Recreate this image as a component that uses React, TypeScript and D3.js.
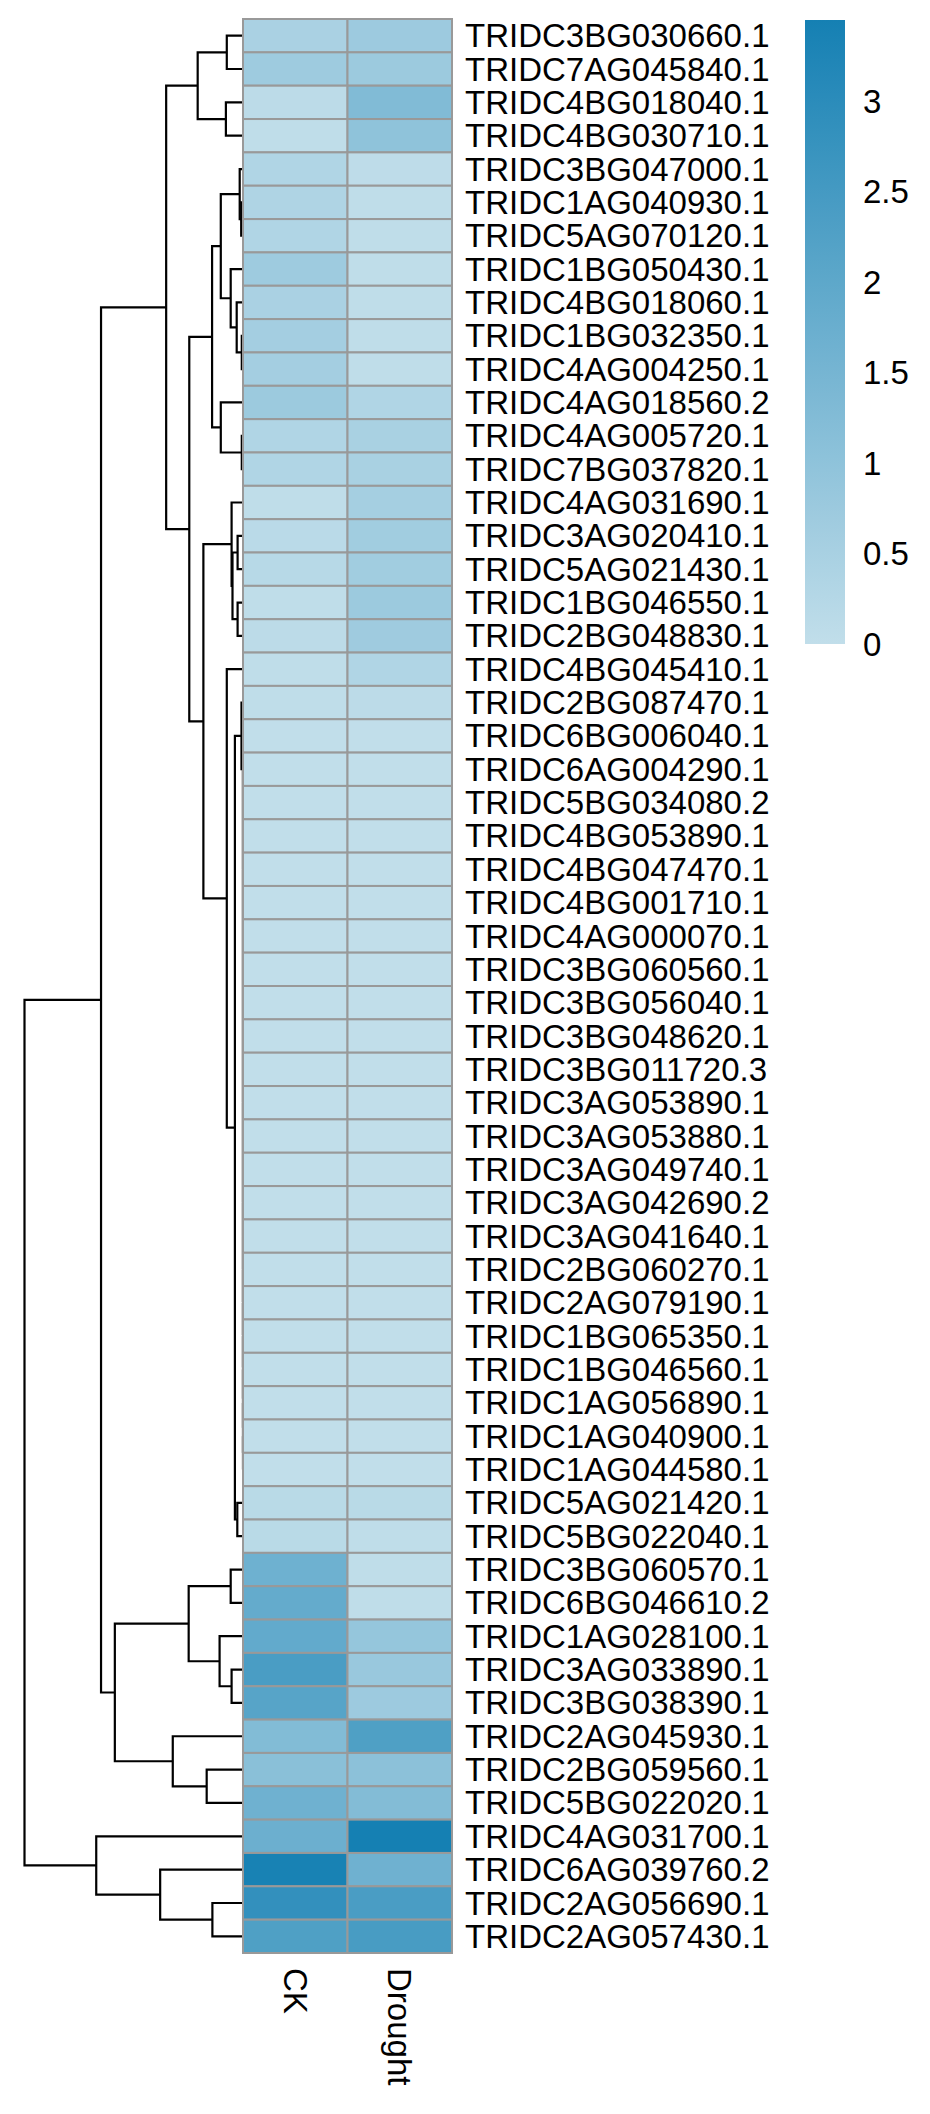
import { useRef, useEffect } from "react";
import * as d3 from "d3";

const genes = [
  "TRIDC3BG030660.1", "TRIDC7AG045840.1", "TRIDC4BG018040.1", "TRIDC4BG030710.1",
  "TRIDC3BG047000.1", "TRIDC1AG040930.1", "TRIDC5AG070120.1", "TRIDC1BG050430.1",
  "TRIDC4BG018060.1", "TRIDC1BG032350.1", "TRIDC4AG004250.1", "TRIDC4AG018560.2",
  "TRIDC4AG005720.1", "TRIDC7BG037820.1", "TRIDC4AG031690.1", "TRIDC3AG020410.1",
  "TRIDC5AG021430.1", "TRIDC1BG046550.1", "TRIDC2BG048830.1", "TRIDC4BG045410.1",
  "TRIDC2BG087470.1", "TRIDC6BG006040.1", "TRIDC6AG004290.1", "TRIDC5BG034080.2",
  "TRIDC4BG053890.1", "TRIDC4BG047470.1", "TRIDC4BG001710.1", "TRIDC4AG000070.1",
  "TRIDC3BG060560.1", "TRIDC3BG056040.1", "TRIDC3BG048620.1", "TRIDC3BG011720.3",
  "TRIDC3AG053890.1", "TRIDC3AG053880.1", "TRIDC3AG049740.1", "TRIDC3AG042690.2",
  "TRIDC3AG041640.1", "TRIDC2BG060270.1", "TRIDC2AG079190.1", "TRIDC1BG065350.1",
  "TRIDC1BG046560.1", "TRIDC1AG056890.1", "TRIDC1AG040900.1", "TRIDC1AG044580.1",
  "TRIDC5AG021420.1", "TRIDC5BG022040.1", "TRIDC3BG060570.1", "TRIDC6BG046610.2",
  "TRIDC1AG028100.1", "TRIDC3AG033890.1", "TRIDC3BG038390.1", "TRIDC2AG045930.1",
  "TRIDC2BG059560.1", "TRIDC5BG022020.1", "TRIDC4AG031700.1", "TRIDC6AG039760.2",
  "TRIDC2AG056690.1", "TRIDC2AG057430.1",
];

const conditions = ["CK", "Drought"];

const ckValues = [
  0.46, 0.7, 0.1, 0.05, 0.34, 0.36, 0.34, 0.7, 0.46, 0.58,
  0.58, 0.74, 0.34, 0.34, 0.04, 0.14, 0.2, 0.04, 0.1, 0.04,
  0.05, 0, 0, 0, 0, 0, 0, 0, 0, 0,
  0, 0, 0, 0, 0, 0, 0, 0, 0, 0,
  0, 0, 0, 0, 0.16, 0.16,
  1.66, 1.87, 1.9, 2.39, 2.13, 1.26, 1.1, 1.64, 1.71, 3.38, 2.85, 2.29,
];

const droughtValues = [
  0.72, 0.74, 1.28, 1.0, 0.06, 0.04, 0.04, 0.05, 0.04, 0.04,
  0.04, 0.34, 0.48, 0.48, 0.56, 0.64, 0.64, 0.74, 0.68, 0.34,
  0.1, 0, 0, 0, 0, 0, 0, 0, 0, 0,
  0, 0, 0, 0, 0, 0, 0, 0, 0, 0,
  0, 0, 0, 0, 0.16, 0.05,
  0.04, 0.04, 0.88, 0.8, 0.72, 2.29, 1.06, 1.24, 3.45, 1.64, 2.39, 2.43,
];

const legendTicks = [0, 0.5, 1, 1.5, 2, 2.5, 3];

// row dendrogram, hclust style: negative = leaf (row number), positive = earlier merge
const rowMerges: [number, number, number][] = [
  [-1, -2, 0.54], [-3, -4, 0.57], [1, 2, 1.51], [-6, -7, 0.06],
  [-5, 4, 0.11], [-10, -11, 0.04], [-9, 6, 0.21], [-8, 7, 0.41],
  [5, 8, 0.74], [-13, -14, 0.04], [-12, 10, 0.74], [9, 11, 1.03],
  [-16, -17, 0.18], [-18, -19, 0.18], [13, 14, 0.35], [-15, 15, 0.38],
  [-43, -44, 0], [-42, 17, 0], [-41, 18, 0], [-40, 19, 0],
  [-39, 20, 0], [-38, 21, 0], [-37, 22, 0], [-36, 23, 0],
  [-35, 24, 0], [-34, 25, 0], [-33, 26, 0], [-32, 27, 0],
  [-31, 28, 0], [-30, 29, 0], [-29, 30, 0], [-28, 31, 0],
  [-27, 32, 0], [-26, 33, 0], [-25, 34, 0], [-24, 35, 0],
  [-23, 36, 0], [-22, 37, 0], [-21, 38, 0.05], [-45, -46, 0.19],
  [39, 40, 0.27], [-20, 41, 0.54], [16, 42, 1.32], [12, 43, 1.79],
  [3, 44, 2.56], [-47, -48, 0.41], [-50, -51, 0.38], [-49, 47, 0.78],
  [46, 48, 1.81], [-53, -54, 1.21], [-52, 50, 2.34], [49, 51, 4.27],
  [45, 52, 4.73], [-57, -58, 1.02], [-56, 54, 2.76], [-55, 55, 4.89],
  [53, 56, 7.28],
];

export default function App() {
  const svgRef = useRef<SVGSVGElement>(null);

  useEffect(() => {
    const svg = svgRef.current;
    if (!svg) return;

    const width = 930;
    const height = 2114;
    const heat = { left: 243, right: 452, top: 19, bottom: 1953 };
    const treeLeft = 24.5;
    const legend = { x: 805, w: 40, top: 20, bottom: 644 };
    const font = "'Liberation Sans', Arial, Helvetica, sans-serif";
    const fontSize = 33;

    const sel = d3.select(svg);
    sel.selectAll("*").remove();
    sel.attr("width", width).attr("height", height);

    const y = d3.scaleBand<string>().domain(genes).range([heat.top, heat.bottom]);
    const x = d3.scaleBand<string>().domain(conditions).range([heat.left, heat.right]);

    const maxVal = d3.max([...ckValues, ...droughtValues]) as number;
    const color = d3
      .scaleLinear<string>()
      .domain([0, maxVal])
      .range(["#c1deea", "#1580b3"])
      .interpolate(d3.interpolateRgb);

    // Dendrogram
    const maxH = d3.max(rowMerges, (d) => d[2]) as number;
    const hx = d3.scaleLinear().domain([0, maxH]).range([heat.left, treeLeft]);
    const pos: { x: number; y: number }[] = [];
    const nodeOf = (id: number) =>
      id < 0 ? { x: hx(0), y: (y(genes[-id - 1]) as number) + y.bandwidth() / 2 } : pos[id - 1];

    const paths: string[] = [];
    rowMerges.forEach(([a, b, h]) => {
      const l = nodeOf(a);
      const r = nodeOf(b);
      const nx = hx(h);
      paths.push(`M${l.x},${l.y}H${nx}V${r.y}H${r.x}`);
      pos.push({ x: nx, y: (l.y + r.y) / 2 });
    });

    sel
      .append("g")
      .selectAll("path")
      .data(paths)
      .join("path")
      .attr("d", (d) => d)
      .attr("fill", "none")
      .attr("stroke", "#000")
      .attr("stroke-width", 2.2);

    // Heatmap cells
    const cells = genes.flatMap((g, i) => [
      { gene: g, cond: "CK", v: ckValues[i] },
      { gene: g, cond: "Drought", v: droughtValues[i] },
    ]);

    sel
      .append("g")
      .selectAll("rect")
      .data(cells)
      .join("rect")
      .attr("x", (d) => x(d.cond) as number)
      .attr("y", (d) => y(d.gene) as number)
      .attr("width", x.bandwidth())
      .attr("height", y.bandwidth())
      .attr("fill", (d) => color(d.v))
      .attr("stroke", "#999999")
      .attr("stroke-width", 2);

    // Row labels
    sel
      .append("g")
      .selectAll("text")
      .data(genes)
      .join("text")
      .attr("x", heat.right + 13)
      .attr("y", (d) => (y(d) as number) + y.bandwidth() / 2)
      .attr("dy", "0.35em")
      .attr("font-family", font)
      .attr("font-size", fontSize)
      .attr("fill", "#000")
      .text((d) => d);

    // Column labels
    sel
      .append("g")
      .selectAll("text")
      .data(conditions)
      .join("text")
      .attr(
        "transform",
        (d) => `translate(${(x(d) as number) + x.bandwidth() / 2},${heat.bottom + 15}) rotate(90)`
      )
      .attr("dy", "0.35em")
      .attr("font-family", font)
      .attr("font-size", fontSize)
      .attr("fill", "#000")
      .text((d) => d);

    // Legend
    const ly = d3.scaleLinear().domain([0, maxVal]).range([legend.bottom, legend.top]);
    const grad = sel
      .append("defs")
      .append("linearGradient")
      .attr("id", "legendGrad")
      .attr("x1", 0)
      .attr("y1", 1)
      .attr("x2", 0)
      .attr("y2", 0);
    grad
      .selectAll("stop")
      .data(d3.range(0, 1.0001, 0.1))
      .join("stop")
      .attr("offset", (d) => d)
      .attr("stop-color", (d) => color(d * maxVal));

    sel
      .append("rect")
      .attr("x", legend.x)
      .attr("y", legend.top)
      .attr("width", legend.w)
      .attr("height", legend.bottom - legend.top)
      .attr("fill", "url(#legendGrad)");

    sel
      .append("g")
      .selectAll("text")
      .data(legendTicks)
      .join("text")
      .attr("x", legend.x + legend.w + 18)
      .attr("y", (d) => ly(d))
      .attr("dy", "0.35em")
      .attr("font-family", font)
      .attr("font-size", fontSize)
      .attr("fill", "#000")
      .text((d) => `${d}`);
  }, []);

  return <svg ref={svgRef} style={{ position: "absolute", left: 0, top: 0 }} />;
}
